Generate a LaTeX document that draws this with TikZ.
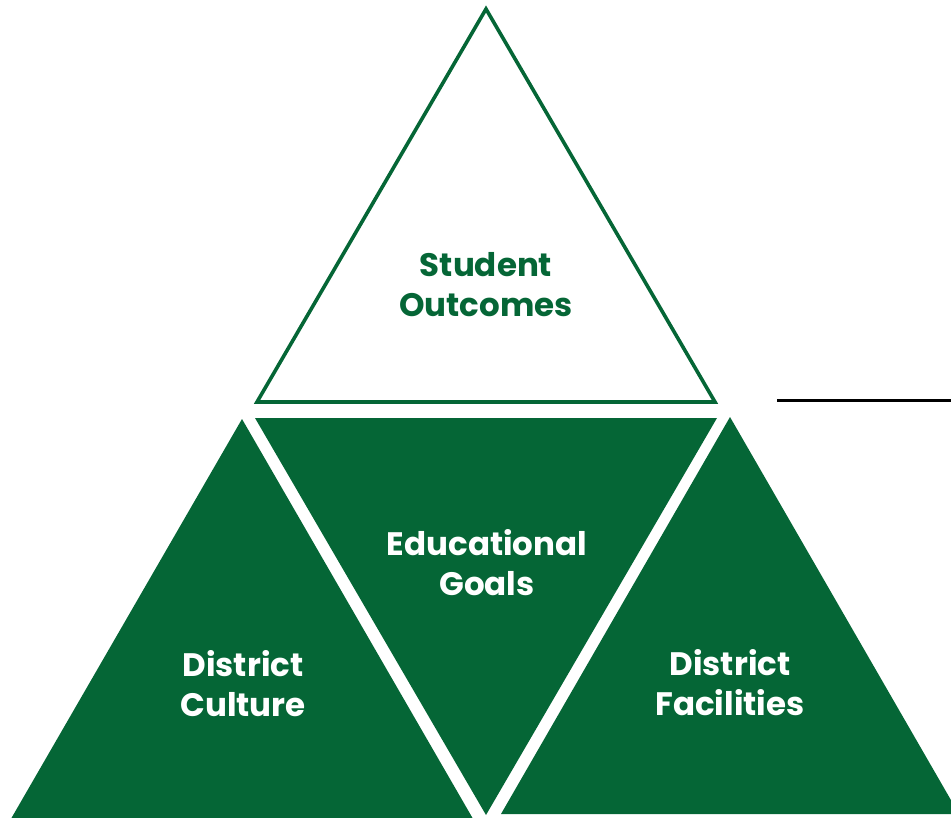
\documentclass[tikz,border=0pt]{standalone}
\usepackage{fontspec}
\setmainfont{Poppins}
\definecolor{pgreen}{RGB}{5,102,54}
\tikzset{
  label/.style={font=\fontsize{32.5}{40}\selectfont\bfseries, align=center, inner sep=0pt},
}

\begin{document}
\begin{tikzpicture}[x=1pt,y=-1pt]
   \useasboundingbox (0,0) rectangle (951,818);
   % top: outlined triangle
   \draw[pgreen, line width=3.6pt, line join=miter] (486,9) -- (715,402) -- (257,402) -- cycle;
   % lower row of filled triangles
   \fill[pgreen] (255,418) -- (717,418) -- (486,815) -- cycle;
   \fill[pgreen] (242,419) -- (476,824) -- (8,824) -- cycle;
   \fill[pgreen] (730,417) -- (959,814) -- (501,814) -- cycle;
   \draw[line width=2.2pt] (777,400.5) -- (951,400.5);
   % labels
   \node[label, text=pgreen] (outcomes)   at (486,285) {Student\\Outcomes};
   \node[label, text=white]  (goals)      at (487,563) {Educational\\Goals};
   \node[label, text=white]  (culture)    at (243,684) {District\\Culture};
   \node[label, text=white]  (facilities) at (730,683) {District\\Facilities};
\end{tikzpicture}
\end{document}
